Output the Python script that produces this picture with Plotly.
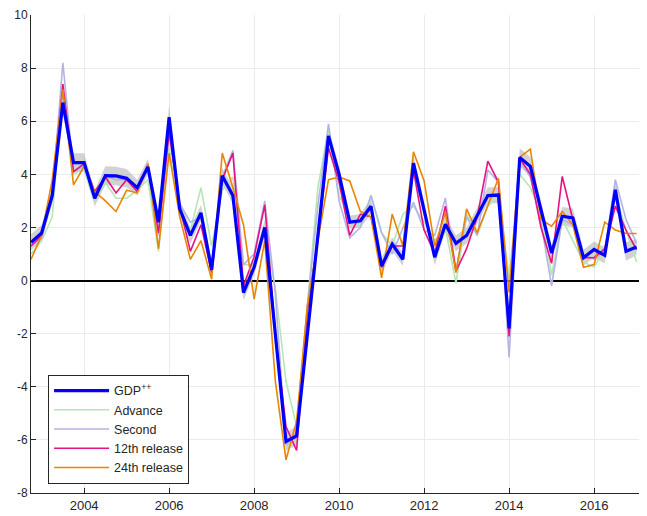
import plotly.graph_objects as go

# Quarterly observations 2002Q4 .. 2017Q1 (x position = year + (quarter-1)/4)
quarters = [f"{y}Q{q}" for y in range(2002, 2018) for q in range(1, 5)]
quarters = quarters[quarters.index("2002Q4"):quarters.index("2017Q1") + 1]

gdp_pp = [1.44, 1.79, 3.2, 6.7, 4.44, 4.44, 3.1, 3.95, 3.94, 3.85, 3.5, 4.28,
          2.2, 6.15, 2.7, 1.7, 2.55, 0.4, 3.95, 3.2,
          -0.45, 0.5, 2.0, -1.9, -6.06, -5.85, -2.1, 1.6,
          5.45, 4.0, 2.2, 2.25, 2.8, 0.55, 1.37, 0.8,
          4.42, 2.65, 0.88, 2.12, 1.4, 1.7, 2.45, 3.2,
          3.22, -1.8, 4.63, 4.3, 2.67, 1.04, 2.42, 2.36,
          0.86, 1.17, 0.95, 3.42, 1.1, 1.26]

band_halfwidth = [0.3, 0.3, 0.3, 0.4, 0.35, 0.35, 0.3, 0.35, 0.35, 0.35, 0.3, 0.3,
                  0.3, 0.45, 0.3, 0.3, 0.3, 0.3, 0.3, 0.3,
                  0.3, 0.3, 0.3, 0.35, 0.35, 0.35, 0.3, 0.3,
                  0.3, 0.3, 0.25, 0.25, 0.3, 0.3, 0.25, 0.25,
                  0.3, 0.3, 0.3, 0.3, 0.3, 0.3, 0.3, 0.3,
                  0.3, 0.4, 0.35, 0.35, 0.3, 0.3, 0.35, 0.35,
                  0.3, 0.3, 0.3, 0.4, 0.35, 0.3]

advance = [1.0, 1.5, 2.4, 7.2, 4.0, 4.2, 3.0, 3.7, 3.1, 3.1, 3.4, 3.8,
           1.1, 5.0, 2.6, 1.9, 3.5, 1.3, 3.4, 3.9,
           0.6, 0.6, 1.9, -0.3, -3.8, -5.5, -1.0, 3.5,
           5.7, 3.2, 2.4, 2.0, 3.2, 1.8, 1.3, 2.5,
           2.8, 2.2, 1.5, 2.0, -0.1, 2.5, 1.7, 2.8,
           3.2, 0.1, 4.0, 3.5, 2.6, 0.2, 2.3, 1.5,
           0.7, 0.5, 1.2, 3.3, 1.9, 0.7]

second = [1.3, 1.6, 3.2, 8.2, 4.1, 4.3, 3.2, 3.95, 3.8, 3.8, 3.5, 4.4,
          1.7, 5.5, 2.9, 2.2, 2.4, 0.6, 3.9, 4.9,
          0.6, 1.0, 3.0, -0.5, -6.2, -5.7, -1.0, 2.8,
          5.9, 3.0, 1.6, 2.0, 3.2, 1.8, 1.0, 2.0,
          2.95, 1.9, 1.7, 3.1, 0.4, 2.4, 1.7, 4.16,
          3.7, -2.9, 4.5, 3.9, 2.2, -0.2, 2.3, 2.1,
          1.0, 0.8, 1.1, 3.8, 2.3, 1.4]

release_12 = [1.3, 1.7, 3.3, 7.4, 4.1, 4.4, 3.35, 3.9, 3.3, 3.8, 3.35, 4.3,
              1.8, 5.6, 2.8, 1.1, 2.1, 0.3, 3.8, 4.8,
              -0.2, 0.9, 2.85, -2.0, -5.5, -6.4, -1.2, 1.5,
              5.0, 3.7, 1.7, 2.5, 2.4, 0.5, 1.3, 1.3,
              4.15, 1.9, 1.0, 2.8, 0.35, 1.2, 2.4, 4.5,
              3.7, -2.1, 4.6, 4.0, 2.0, 0.65, 3.92, 2.3,
              0.86, 0.86, 1.2, 2.8, 1.9, 1.16]

release_24 = [0.8, 1.7, 3.8, 7.2, 3.6, 4.3, 3.35, 3.0, 2.6, 3.4, 3.3, 4.4,
              1.2, 4.8, 2.4, 0.8, 1.5, 0.05, 4.8, 3.5,
              2.1, -0.7, 1.5, -3.8, -6.75, -5.3, -1.0, 1.5,
              3.8, 3.9, 3.75, 2.6, 2.4, 0.1, 2.5, 1.3,
              4.85, 3.75, 1.3, 2.55, 0.3, 2.7, 1.8, 2.8,
              3.85, -0.45, 4.65, 4.95, 2.3, 2.05, 2.6, 2.1,
              0.5, 0.6, 2.2, 1.9, 1.77, 1.77]

x_ticks = [2004, 2006, 2008, 2010, 2012, 2014, 2016]
y_ticks = [-8, -6, -4, -2, 0, 2, 4, 6, 8, 10]

x = [int(s[:4]) + (int(s[-1]) - 1) / 4 for s in quarters]
band_hi = [g + h for g, h in zip(gdp_pp, band_halfwidth)]
band_lo = [g - h for g, h in zip(gdp_pp, band_halfwidth)]

fig = go.Figure()
fig.add_trace(go.Scatter(x=x, y=band_hi, mode="lines", line=dict(width=0, color="rgba(0,0,0,0)"),
                         showlegend=False, hoverinfo="skip"))
fig.add_trace(go.Scatter(x=x, y=band_lo, mode="lines", line=dict(width=0, color="rgba(0,0,0,0)"),
                         fill="tonexty", fillcolor="rgba(165,165,165,0.5)",
                         showlegend=False, hoverinfo="skip"))
fig.add_trace(go.Scatter(x=x, y=advance, mode="lines", name="Advance", legendrank=2,
                         line=dict(color="#b5e6b5", width=1.6)))
fig.add_trace(go.Scatter(x=x, y=second, mode="lines", name="Second", legendrank=3,
                         line=dict(color="#b3b3e6", width=1.6)))
fig.add_trace(go.Scatter(x=x, y=release_12, mode="lines", name="12th release", legendrank=4,
                         line=dict(color="#e6127f", width=1.6)))
fig.add_trace(go.Scatter(x=x, y=release_24, mode="lines", name="24th release", legendrank=5,
                         line=dict(color="#ea8500", width=1.6)))
fig.add_trace(go.Scatter(x=x, y=gdp_pp, mode="lines", name="GDP<sup>++</sup>", legendrank=1,
                         line=dict(color="#0000ff", width=3.2)))

# page body has an 8px default margin, so the figure is sized/offset to compensate
fig.update_layout(
    width=639, height=508,
    margin=dict(l=23, r=7, t=7, b=23, autoexpand=False),
    paper_bgcolor="white", plot_bgcolor="white",
    font=dict(family="Liberation Sans, Arial, sans-serif", size=13, color="#262626"),
    showlegend=True,
    legend=dict(x=0.028, y=0.247, xanchor="left", yanchor="top",
                bgcolor="white", bordercolor="#262626", borderwidth=1,
                font=dict(size=12.5, color="#262626"), itemwidth=55,
                traceorder="normal", tracegroupgap=0),
)
fig.update_xaxes(range=[2002.75, 2017.08], tickvals=x_ticks, ticktext=[str(t) for t in x_ticks],
                 tickfont=dict(size=13),
                 showgrid=True, gridcolor="#ebebeb", gridwidth=1,
                 showline=True, linecolor="#262626", linewidth=1,
                 ticks="inside", ticklen=5, tickcolor="#262626", zeroline=False)
fig.update_yaxes(range=[-8, 10], tickvals=y_ticks, ticktext=[str(t) for t in y_ticks],
                 tickfont=dict(size=12),
                 showgrid=True, gridcolor="#ebebeb", gridwidth=1,
                 showline=True, linecolor="#262626", linewidth=1,
                 ticks="inside", ticklen=5, tickcolor="#262626",
                 zeroline=True, zerolinecolor="black", zerolinewidth=2)

fig.write_html("out.html")
